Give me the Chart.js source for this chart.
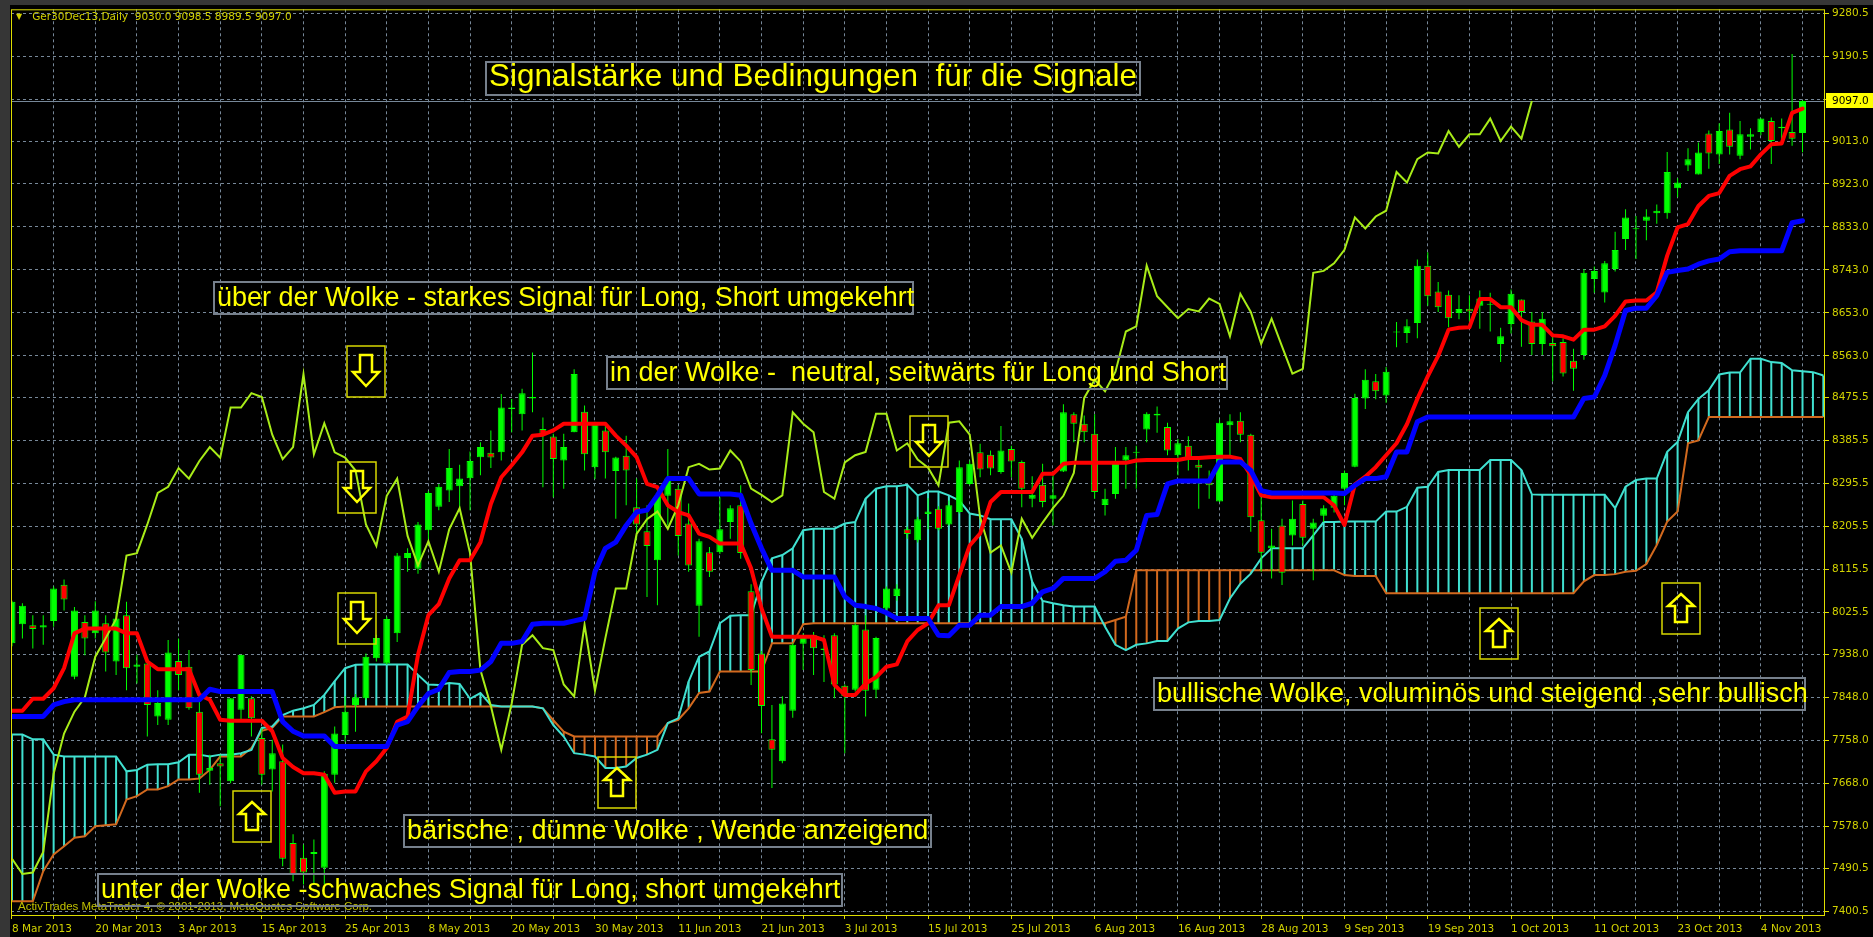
<!DOCTYPE html>
<html>
<head>
<meta charset="utf-8">
<script src="https://cdn.jsdelivr.net/npm/chart.js@4.4.0/dist/chart.umd.min.js"></script>
<style>
html, body { margin: 0; padding: 0; background: #000; overflow: hidden; }
#wrap { position: relative; width: 1873px; height: 937px; }
#c { position: absolute; left: 0; top: 0; }
.note {
  position: absolute; box-sizing: border-box; border: 2px solid #76808c;
  color: #ffff00; font-family: 'Liberation Sans', Arial, sans-serif;
  font-size: 27px; line-height: 28px; height: 34px; padding-left: 2px; white-space: pre;
}
.small { position: absolute; font-family: 'DejaVu Sans', sans-serif; font-size: 10.5px; white-space: pre; }
svg.arr { position: absolute; }
</style>
</head>
<body>
<div id="wrap">
  <canvas id="c" width="1873" height="937"></canvas>
  <div id="hdr" class="small" style="left:16px;top:10px;color:#d0d000"></div>
  <div class="small" style="left:18px;top:900px;color:#c0c000;font-family:'Liberation Sans',Arial,sans-serif;font-size:11.5px">ActivTrades MetaTrader 4, © 2001-2013, MetaQuotes Software Corp.</div>
  <div class="note" style="left:485px;top:61px;width:656px;height:35px;font-size:31.5px;line-height:25px">Signalstärke und Bedingungen  für die Signale</div>
  <div class="note" style="left:213px;top:281px;width:701px">über der Wolke - starkes Signal für Long, Short umgekehrt</div>
  <div class="note" style="left:606px;top:356px;width:622px">in der Wolke -  neutral, seitwärts für Long und Short</div>
  <div class="note" style="left:1153px;top:677px;width:653px">bullische Wolke, voluminös und steigend ,sehr bullisch</div>
  <div class="note" style="left:403px;top:814px;width:529px">bärische , dünne Wolke , Wende anzeigend</div>
  <div class="note" style="left:97px;top:873px;width:746px">unter der Wolke -schwaches Signal für Long, short umgekehrt</div>
</div>
<script>
// one bar per trading day, bar 0 = 8 Mar 2013; a date label every 8 bars
const dateLabels = ['8 Mar 2013', '20 Mar 2013', '3 Apr 2013', '15 Apr 2013', '25 Apr 2013', '8 May 2013',
  '20 May 2013', '30 May 2013', '11 Jun 2013', '21 Jun 2013', '3 Jul 2013', '15 Jul 2013', '25 Jul 2013',
  '6 Aug 2013', '16 Aug 2013', '28 Aug 2013', '9 Sep 2013', '19 Sep 2013', '1 Oct 2013', '11 Oct 2013',
  '23 Oct 2013', '4 Nov 2013'];

const priceTicks = [9280.5, 9190.5, 9101.0, 9013.0, 8923.0, 8833.0, 8743.0, 8653.0, 8563.0, 8475.5, 8385.5,
  8295.5, 8205.5, 8115.5, 8025.5, 7938.0, 7848.0, 7758.0, 7668.0, 7578.0, 7490.5, 7400.5];

const opens = [7961,8001,7999,7994,8008,8084,7891,8006,7982,8003,
  7923,8020,7912,7919,7808,7801,7924,7912,7818,7694,
  7710,7672,7822,7846,7763,7697,7714,7543,7512,7520,
  7491,7686,7769,7832,7846,7930,7919,7982,8140,8117,
  8198,8247,8281,8290,8307,8351,8360,8361,8452,8441,
  8474,8410,8394,8344,8403,8446,8330,8407,8322,8354,
  8246,8196,8135,8270,8285,8212,8040,8152,8152,8215,
  8250,8070,7940,7760,7714,7820,7960,7978,7950,7978,
  7872,7864,7990,7864,8034,8060,8200,8177,8232,8243,
  8210,8236,8295,8361,8356,8320,8368,8341,8264,8293,
  8264,8321,8441,8421,8400,8251,8274,8344,8360,8409,
  8438,8414,8355,8375,8335,8298,8258,8418,8427,8398,
  8219,8160,8208,8187,8253,8201,8228,8245,8285,8331,
  8474,8510,8480,8612,8611,8632,8752,8698,8691,8653,
  8662,8668,8670,8588,8630,8681,8635,8588,8590,8592,
  8553,8565,8724,8696,8745,8808,8828,8846,8862,8862,
  8914,8962,8943,9029,8985,9037,8982,9022,9032,9055,
  9040,9032,9030];

const highs = [8050,8045,8020,8020,8080,8095,8037,8020,8049,8020,
  8027,8048,7937,7923,7863,7968,7971,7947,7839,7728,
  7728,7846,7937,7850,7783,7759,7749,7561,7540,7550,
  7693,7787,7850,7855,7940,7979,8017,8150,8160,8215,
  8280,8295,8368,8335,8363,8382,8407,8483,8473,8494,
  8570,8434,8400,8400,8535,8459,8425,8417,8352,8396,
  8306,8250,8275,8368,8292,8254,8180,8163,8267,8250,
  8292,8085,7945,7832,7850,7961,7982,7985,7978,7982,
  7875,8003,8020,7975,8080,8085,8205,8226,8265,8248,
  8260,8344,8344,8379,8365,8416,8375,8344,8311,8337,
  8313,8462,8445,8438,8441,8285,8372,8372,8375,8445,
  8457,8423,8389,8395,8345,8323,8430,8441,8445,8400,
  8270,8201,8222,8260,8260,8222,8250,8280,8323,8484,
  8535,8525,8540,8634,8640,8765,8780,8718,8700,8690,
  8690,8700,8695,8622,8702,8681,8655,8655,8610,8600,
  8578,8745,8750,8762,8823,8870,8856,8870,8880,8990,
  8935,8998,9010,9035,9050,9072,9055,9040,9060,9062,
  9060,9195,9098.5];

const lows = [7955,7971,7950,7958,7996,8030,7886,7936,7971,7902,
  7895,7863,7877,7766,7790,7790,7863,7822,7648,7665,
  7620,7668,7801,7766,7665,7651,7494,7463,7456,7456,
  7456,7669,7755,7776,7843,7923,7916,7964,8111,8107,
  8173,8240,8257,8243,8240,8313,8328,8344,8403,8407,
  8445,8288,8267,8285,8403,8323,8305,8306,8222,8250,
  8180,8058,8041,8208,8145,8111,7975,8100,8148,8180,
  8138,7874,7773,7658,7710,7805,7905,7895,7880,7846,
  7731,7860,7808,7846,8027,8050,8180,8172,8200,8198,
  8208,8233,8292,8309,8313,8316,8309,8246,8246,8246,
  8208,8320,8382,8382,8264,8229,8264,8285,8285,8382,
  8402,8355,8313,8323,8243,8264,8257,8354,8382,8195,
  8111,8097,8083,8166,8166,8093,8215,8235,8250,8330,
  8452,8472,8465,8581,8590,8600,8668,8655,8623,8640,
  8635,8620,8614,8550,8610,8582,8565,8565,8510,8520,
  8490,8555,8695,8675,8740,8785,8766,8805,8840,8850,
  8895,8950,8943,8955,8965,8985,8975,8995,9025,8965,
  9010,9003,8989.5];

const closes = [8048,8040,7991,7999,8076,8053,8030,7971,8030,7942,
  8013,7909,7917,7832,7836,7942,7895,7825,7686,7700,
  7703,7846,7937,7804,7686,7731,7510,7478,7481,7524,
  7688,7772,7818,7848,7933,7972,8012,8145,8150,8210,
  8276,8289,8328,8306,8343,8372,8350,8455,8455,8485,
  8477,8398,8347,8372,8525,8357,8422,8361,8350,8323,
  8210,8165,8270,8306,8186,8124,8175,8111,8200,8244,
  8150,7905,7830,7738,7835,7958,7978,7951,7947,7875,
  7850,8000,7862,7972,8076,8076,8190,8221,8237,8201,
  8250,8330,8337,8325,8327,8365,8342,8285,8272,8257,
  8271,8445,8421,8403,8278,8264,8340,8355,8362,8442,
  8442,8365,8380,8346,8329,8292,8423,8426,8398,8225,
  8151,8166,8109,8222,8182,8214,8244,8270,8318,8475,
  8513,8489,8530,8614,8625,8752,8688,8665,8642,8661,
  8656,8683,8672,8604,8693,8655,8588,8641,8583,8526,
  8536,8737,8741,8757,8785,8853,8830,8855,8867,8948,
  8926,8975,8989,8987,9034,9001,9027,9027,9060,9013,
  9043,9018,9097];

const tenkan = [7820,7820,7845,7845,7867,7909,7982,7992,7992,7992,
  7992,7982,7982,7923,7907,7907,7907,7907,7853,7843,
  7801,7799,7799,7799,7799,7777,7721,7702,7689,7689,
  7686,7648,7651,7651,7693,7714,7742,7797,7808,7937,
  8020,8043,8097,8135,8135,8173,8253,8309,8334,8361,
  8396,8398,8407,8421,8421,8421,8421,8421,8396,8375,
  8351,8295,8288,8250,8236,8229,8191,8184,8170,8170,
  8170,8118,8034,7975,7975,7975,7975,7975,7968,7874,
  7853,7853,7877,7890,7912,7917,7965,7989,8003,8041,
  8041,8104,8166,8191,8257,8278,8278,8278,8278,8316,
  8316,8337,8339,8339,8339,8339,8339,8339,8344,8345,
  8345,8345,8345,8349,8349,8351,8352,8352,8347,8313,
  8271,8267,8267,8267,8267,8267,8267,8250,8209,8294,
  8310,8330,8355,8380,8420,8473,8520,8563,8618,8622,
  8623,8682,8682,8665,8665,8638,8628,8628,8606,8604,
  8597,8618,8618,8625,8647,8677,8679,8679,8696,8773,
  8832,8839,8877,8898,8904,8940,8954,8960,8985,9006,
  9008,9072,9081];

const kijun = [7808,7808,7808,7808,7832,7839,7843,7843,7843,7843,
  7843,7843,7843,7843,7843,7843,7843,7843,7843,7865,
  7860,7860,7860,7860,7860,7860,7797,7777,7767,7767,
  7767,7745,7745,7745,7745,7745,7745,7790,7797,7829,
  7856,7865,7900,7902,7902,7905,7923,7961,7961,7965,
  8001,8003,8003,8003,8008,8013,8111,8160,8173,8208,
  8236,8240,8271,8306,8306,8306,8274,8274,8274,8274,
  8271,8212,8160,8114,8114,8114,8100,8100,8100,8100,
  8059,8041,8038,8034,8025,8013,8013,8013,8013,7978,
  7977,7999,7999,8020,8020,8038,8038,8038,8045,8069,
  8076,8097,8097,8097,8097,8111,8133,8135,8156,8229,
  8231,8295,8301,8301,8301,8301,8341,8341,8341,8323,
  8281,8276,8276,8276,8276,8276,8276,8276,8275,8292,
  8306,8306,8310,8362,8362,8425,8435,8435,8435,8435,
  8435,8435,8435,8435,8435,8435,8435,8435,8435,8435,
  8435,8474,8477,8522,8585,8658,8663,8663,8689,8738,
  8742,8745,8755,8762,8766,8781,8783,8783,8783,8783,
  8783,8842,8846];

// cloud spans run two bars past the last candle
const senkouA = [7770,7770,7760,7760,7728,7724,7724,7724,7724,7724,
  7724,7693,7696,7707,7708,7708,7712,7728,7728,7724,
  7728,7728,7731,7738,7784,7787,7811,7820,7825,7832,
  7853,7882,7909,7916,7917,7917,7917,7917,7917,7895,
  7875,7874,7878,7876,7845,7857,7832,7829,7829,7829,
  7829,7825,7790,7766,7731,7728,7724,7700,7700,7703,
  7721,7728,7738,7794,7804,7881,7933,7944,8003,8019,
  8020,8020,8090,8139,8146,8160,8198,8201,8201,8201,
  8212,8215,8264,8285,8290,8290,8293,8271,8279,8279,
  8271,8260,8233,8229,8221,8221,8221,8180,8090,8050,
  8045,8041,8038,8038,8038,7996,7958,7947,7958,7961,
  7966,7966,7992,8005,8008,8008,8010,8055,8086,8107,
  8139,8160,8160,8160,8160,8187,8215,8215,8216,8216,
  8216,8216,8237,8237,8247,8287,8289,8320,8324,8324,
  8324,8324,8345,8345,8345,8324,8273,8272,8272,8272,
  8272,8272,8272,8272,8244,8289,8303,8306,8306,8362,
  8383,8445,8473,8491,8524,8528,8528,8557,8557,8550,
  8548,8533,8531,8529,8522];

const senkouB = [7421,7421,7421,7484,7519,7536,7554,7557,7578,7580,
  7582,7634,7641,7655,7655,7662,7676,7676,7678,7696,
  7724,7724,7724,7742,7778,7784,7808,7808,7808,7808,
  7817,7827,7829,7829,7829,7829,7829,7829,7829,7829,
  7829,7829,7829,7829,7829,7829,7829,7829,7829,7829,
  7829,7825,7800,7776,7766,7766,7766,7766,7766,7766,
  7766,7766,7766,7794,7801,7825,7857,7860,7902,7902,
  7902,7902,7902,7961,7961,7961,8001,8003,8003,8003,
  8003,8003,8003,8003,8003,8003,8003,8003,8003,8003,
  8003,8003,8003,8003,8003,8003,8003,8003,8003,8003,
  8003,8003,8003,8003,8003,8003,8010,8017,8114,8114,
  8114,8114,8114,8114,8114,8114,8114,8114,8114,8114,
  8114,8114,8114,8114,8114,8114,8114,8114,8104,8102,
  8102,8102,8066,8066,8066,8066,8066,8066,8066,8066,
  8066,8066,8066,8066,8066,8066,8066,8066,8066,8066,
  8066,8091,8104,8104,8106,8111,8113,8127,8167,8216,
  8237,8380,8386,8435,8435,8435,8435,8435,8435,8435,
  8435,8435,8435,8435,8435];

const chikouShift = 26;
const hiddenTick = 9101.0;   // its label is covered by the current price tag

// ---- styles ----
const axisYellow = '#dede00';
const labelColor = '#d2d200';
const gridColor = '#778899';
const lime = '#00ff00';
const tickFont = { family: "'DejaVu Sans', sans-serif", size: 10.5 };

const last = closes.length - 1;
document.getElementById('hdr').innerHTML =
  '<span style="font-size:8px;position:relative;top:-1px">\u25BC</span>   Ger30Dec13,Daily  ' +
  [opens[last], highs[last], lows[last], closes[last]].map(v => v.toFixed(1)).join(' ');

const xy = arr => arr.map((v, i) => ({ x: i, y: v }));
const gridBars = [];
for (let b = 0; b < closes.length; b += 4) gridBars.push(b);

const mtFrame = {
  id: 'mtFrame',
  beforeDraw(c) {
    const g = c.ctx;
    g.save();
    g.fillStyle = '#000';
    g.fillRect(0, 0, c.width, c.height);
    g.fillStyle = '#363636';
    g.fillRect(0, 0, 10, c.height);
    g.fillRect(0, 0, c.width, 5);
    g.restore();
  },
  beforeDatasetsDraw(c) {
    const g = c.ctx, a = c.chartArea;
    const y = Math.round(c.scales.y.getPixelForValue(closes[last])) + 0.5;
    g.save();
    g.strokeStyle = gridColor;
    g.lineWidth = 1;
    g.beginPath();
    g.moveTo(a.left, y);
    g.lineTo(a.right, y);
    g.stroke();
    g.restore();
  },
  afterDraw(c) {
    const g = c.ctx, a = c.chartArea;
    g.save();
    g.strokeStyle = axisYellow;
    g.lineWidth = 1;
    g.strokeRect(a.left + 0.5, a.top + 0.5, a.right - a.left - 1, a.bottom - a.top);
    const y = Math.round(c.scales.y.getPixelForValue(closes[last]));
    g.fillStyle = '#ffff00';
    g.fillRect(a.right + 1, y - 8, c.width - a.right - 1, 15);
    g.fillStyle = '#000';
    g.font = "10.5px 'DejaVu Sans', sans-serif";
    g.textBaseline = 'middle';
    g.fillText(closes[last].toFixed(1), a.right + 7, y);
    g.restore();
  }
};

new Chart(document.getElementById('c'), {
  type: 'bar',
  data: {
    datasets: [
      { type: 'line', label: 'Kijun-sen', data: xy(kijun), borderColor: '#0000ff', borderWidth: 5,
        pointRadius: 0, borderJoinStyle: 'round', borderCapStyle: 'round', order: 1 },
      { type: 'line', label: 'Tenkan-sen', data: xy(tenkan), borderColor: '#ff0000', borderWidth: 4,
        pointRadius: 0, borderJoinStyle: 'round', borderCapStyle: 'round', order: 2 },
      { type: 'line', label: 'Chikou Span', data: closes.slice(chikouShift).map((v, j) => ({ x: j, y: v })),
        borderColor: '#a8ec18', borderWidth: 2, pointRadius: 0, order: 3 },
      { type: 'bar', label: 'body', data: opens.map((o, i) => ({ x: i, y: [o, closes[i]] })),
        backgroundColor: opens.map((o, i) => closes[i] >= o ? lime : '#ff0000'),
        borderColor: lime, borderWidth: 1, borderSkipped: false, barThickness: 7, minBarLength: 1,
        grouped: false, inflateAmount: 0, order: 4 },
      { type: 'bar', label: 'wick', data: highs.map((h, i) => ({ x: i, y: [lows[i], h] })),
        backgroundColor: lime, barThickness: 1, grouped: false, inflateAmount: 0, order: 5 },
      { type: 'line', label: 'Senkou Span A', data: xy(senkouA), borderColor: '#40e0d0', borderWidth: 2,
        pointRadius: 0, order: 6 },
      { type: 'line', label: 'Senkou Span B', data: xy(senkouB), borderColor: '#d2691e', borderWidth: 2,
        pointRadius: 0, order: 7 },
      { type: 'bar', label: 'cloud', data: senkouA.map((v, i) => ({ x: i, y: [senkouB[i], v] })),
        backgroundColor: senkouA.map((v, i) => v >= senkouB[i] ? '#40e0d0' : '#d2691e'),
        barThickness: 2, grouped: false, inflateAmount: 0, order: 8 }
    ]
  },
  options: {
    responsive: false,
    devicePixelRatio: 1,
    animation: false,
    events: [],
    layout: { padding: { left: 11, top: 6, right: 0, bottom: 0 } },
    plugins: { legend: { display: false }, tooltip: { enabled: false } },
    scales: {
      x: {
        type: 'linear', min: -0.096, max: 174.16, offset: false,
        afterBuildTicks: s => { s.ticks = gridBars.map(v => ({ value: v })); },
        afterFit: s => { s.height = 22; },
        grid: { color: c => (c.tick && c.tick.value === 0) ? 'rgba(0,0,0,0)' : gridColor,
                lineWidth: 1, offset: false, drawTicks: true, tickLength: 4, tickColor: axisYellow },
        border: { display: false, dash: [3, 3] },
        ticks: { autoSkip: false, maxRotation: 0, align: 'start', padding: 4, color: labelColor, font: tickFont,
                 callback: v => v % 8 === 0 ? dateLabels[v / 8] : '' }
      },
      y: {
        type: 'linear', position: 'right', min: 7392.15, max: 9288.85,
        afterBuildTicks: s => { s.ticks = priceTicks.map(v => ({ value: v })); },
        afterFit: s => { s.width = 48; },
        grid: { color: gridColor, lineWidth: 1, drawTicks: true, tickLength: 4, tickColor: axisYellow },
        border: { display: false, dash: [3, 3] },
        ticks: { autoSkip: false, padding: 3, color: labelColor, font: tickFont,
                 callback: v => v === hiddenTick ? '' : v.toFixed(1) }
      }
    }
  },
  plugins: [mtFrame]
});

// arrow markers (down / up) in yellow boxes
const arrowMarks = [[346, 345, 'd'], [337, 461, 'd'], [337, 592, 'd'], [232, 790, 'u'],
  [597, 756, 'u'], [909, 415, 'd'], [1479, 607, 'u'], [1661, 582, 'u']];
const downPts = '14,10 26,10 26,27 33,27 20,41 7,27 14,27';
const upPts = '20,12 33,24 26,24 26,40 14,40 14,24 7,24';
const wrap = document.getElementById('wrap');
arrowMarks.forEach(([l, t, d]) => {
  wrap.insertAdjacentHTML('beforeend',
    `<svg class="arr" style="left:${l}px;top:${t}px" width="40" height="53">` +
    `<rect x="1" y="1" width="38" height="51" fill="none" stroke="#d8d800" stroke-width="1.5"/>` +
    `<polygon points="${d === 'd' ? downPts : upPts}" fill="none" stroke="#ffff00" stroke-width="2.5"/></svg>`);
});
</script>
</body>
</html>
